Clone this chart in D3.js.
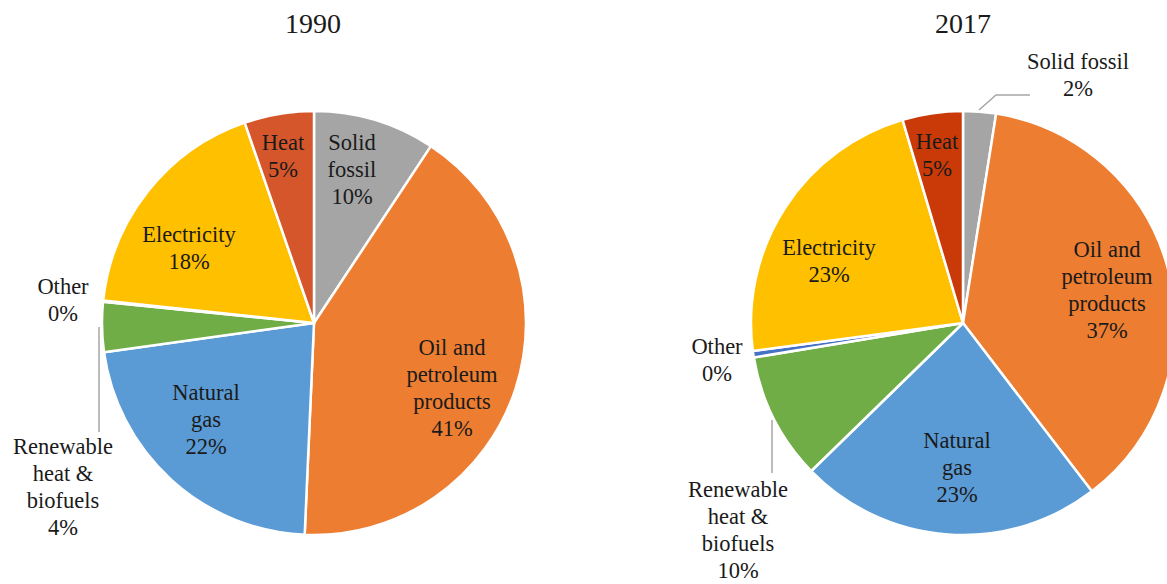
<!DOCTYPE html>
<html>
<head>
<meta charset="utf-8">
<script src="https://cdn.jsdelivr.net/npm/d3@7"></script>
<style>
  html, body { margin: 0; padding: 0; background: #fff; }
  svg { display: block; }
</style>
</head>
<body>
<svg id="chart" width="1167" height="584"></svg>
<script>
// ---- data ----
const categories = ["Solid fossil", "Oil and petroleum products", "Natural gas",
  "Renewable heat & biofuels", "Other", "Electricity", "Heat"];
const years = ["1990", "2017"];
const values1990 = [9.3, 41.4, 22.1, 3.8, 0.1, 18.0, 5.3];
const values2017 = [2.5, 37.1, 23.1, 9.7, 0.5, 22.5, 4.6];
const pctLabels1990 = ["10%", "41%", "22%", "4%", "0%", "18%", "5%"];
const pctLabels2017 = ["2%", "37%", "23%", "10%", "0%", "23%", "5%"];
const colors1990 = ["#A5A5A5", "#ED7D31", "#5B9BD5", "#70AD47", "#4472C4", "#FFC000", "#D5562B"];
const colors2017 = ["#A5A5A5", "#ED7D31", "#5B9BD5", "#70AD47", "#4472C4", "#FFC000", "#C93A08"];

// ---- layout (label placement) ----
const nameLines1990 = [["Solid", "fossil"], ["Oil and", "petroleum", "products"], ["Natural", "gas"],
  ["Renewable", "heat &", "biofuels"], ["Other"], ["Electricity"], ["Heat"]];
const nameLines2017 = [["Solid fossil"], ["Oil and", "petroleum", "products"], ["Natural", "gas"],
  ["Renewable", "heat &", "biofuels"], ["Other"], ["Electricity"], ["Heat"]];
const labelPos1990 = [[352, 143], [452, 348], [206, 393], [63, 447], [63, 287], [189, 235], [283, 143]];
const labelPos2017 = [[1078, 62], [1107, 250], [957, 441], [738, 490], [717, 347], [829, 248], [937, 142]];
const leaders1990 = [[[99, 327], [99, 432]]];
const leaders2017 = [[[979, 110], [996, 95], [1030, 95]], [[772, 420], [772, 473]]];

const FONT = "'Liberation Serif', 'Times New Roman', 'DejaVu Serif', serif";

const charts = [
  { year: years[0], values: values1990, pct: pctLabels1990, colors: colors1990, names: nameLines1990,
    pos: labelPos1990, leaders: leaders1990, cx: 314, cy: 323, titleX: 313 },
  { year: years[1], values: values2017, pct: pctLabels2017, colors: colors2017, names: nameLines2017,
    pos: labelPos2017, leaders: leaders2017, cx: 963, cy: 323, titleX: 963 }
];

const svg = d3.select("#chart");
const radius = 212;
const lineH = 27;
const pie = d3.pie().sort(null).value(d => d.value);
const arc = d3.arc().innerRadius(0).outerRadius(radius);

charts.forEach(ch => {
  const data = categories.map((c, i) => ({ name: c, value: ch.values[i], i }));
  const g = svg.append("g").attr("transform", `translate(${ch.cx},${ch.cy})`);
  g.selectAll("path").data(pie(data)).join("path")
    .attr("d", arc)
    .attr("fill", d => ch.colors[d.data.i])
    .attr("stroke", "#fff")
    .attr("stroke-width", 2.5)
    .attr("stroke-linejoin", "round");

  svg.append("text").attr("x", ch.titleX).attr("y", 33)
    .attr("text-anchor", "middle")
    .attr("font-family", FONT).attr("font-size", 28).attr("fill", "#1a1a1a")
    .text(ch.year);

  ch.leaders.forEach(pts => {
    svg.append("path").attr("d", d3.line()(pts))
      .attr("fill", "none").attr("stroke", "#A6A6A6").attr("stroke-width", 1.5);
  });

  categories.forEach((c, i) => {
    const lines = ch.names[i].concat([ch.pct[i]]);
    const t = svg.append("text").attr("text-anchor", "middle")
      .attr("font-family", FONT).attr("font-size", 22.5).attr("fill", "#1a1a1a");
    lines.forEach((ln, k) => {
      t.append("tspan").attr("x", ch.pos[i][0]).attr("y", ch.pos[i][1] + 7 + k * lineH)
        .attr("font-family", FONT).text(ln);
    });
  });
});
</script>
</body>
</html>
